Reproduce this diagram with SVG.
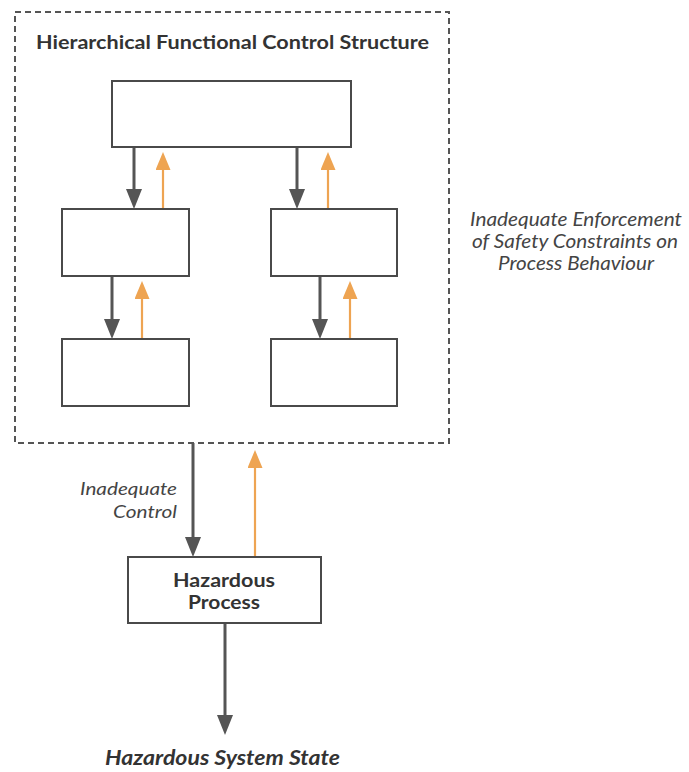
<svg xmlns="http://www.w3.org/2000/svg" width="689" height="772" viewBox="0 0 689 772">
<defs>
<style>
.box{fill:#fff;stroke:#4a4a4a;stroke-width:2}
.ctl{stroke:#555;stroke-width:3;fill:none}
.fb{stroke:#eea452;stroke-width:2.2;fill:none}
.t{font-family:Lato,"Open Sans","Liberation Sans",sans-serif;fill:#333}
.it{font-style:italic;fill:#444}
</style>
<marker id="hd" markerUnits="userSpaceOnUse" markerWidth="20" markerHeight="16" refX="0" refY="8" orient="auto" viewBox="0 0 20 16">
<path d="M0,0 L20,8 L0,16 Z" fill="#555"/>
</marker>
<marker id="ho" markerUnits="userSpaceOnUse" markerWidth="18" markerHeight="15" refX="0" refY="7.5" orient="auto" viewBox="0 0 18 15">
<path d="M0,0 L18,7.5 L0,15 Z" fill="#eea452"/>
</marker>
</defs>
<rect width="689" height="772" fill="#fff"/>
<g id="structure">
<rect x="15" y="12" width="434" height="431" fill="none" stroke="#555" stroke-width="2" stroke-dasharray="6,4"/>
<text class="t" x="36" y="49" font-size="18.5" font-weight="bold" textLength="393" lengthAdjust="spacingAndGlyphs">Hierarchical Functional Control Structure</text>
</g>
<g id="top"><rect class="box" x="112" y="81" width="239" height="66"/></g>
<g id="midLeft"><rect class="box" x="62" y="209" width="127" height="67"/></g>
<g id="midRight"><rect class="box" x="271" y="209" width="126" height="67"/></g>
<g id="botLeft"><rect class="box" x="62" y="339" width="127" height="67"/></g>
<g id="botRight"><rect class="box" x="271" y="339" width="126" height="67"/></g>
<g id="process">
<rect class="box" x="128" y="557" width="193" height="66"/>
<text class="t" x="173" y="587" font-size="19" font-weight="bold" textLength="102" lengthAdjust="spacingAndGlyphs">Hazardous</text>
<text class="t" x="188" y="609" font-size="19" font-weight="bold" textLength="72" lengthAdjust="spacingAndGlyphs">Process</text>
</g>
<g id="state">
<text class="t" x="105" y="765" font-size="20" font-weight="bold" font-style="italic" textLength="235" lengthAdjust="spacingAndGlyphs">Hazardous System State</text>
</g>
<g id="labels">
<text class="t it" x="470" y="226" font-size="18.5" textLength="212" lengthAdjust="spacingAndGlyphs">Inadequate Enforcement</text>
<text class="t it" x="472" y="248" font-size="18.5" textLength="206" lengthAdjust="spacingAndGlyphs">of Safety Constraints on</text>
<text class="t it" x="498" y="270" font-size="18.5" textLength="156" lengthAdjust="spacingAndGlyphs">Process Behaviour</text>
<text class="t it" x="80" y="495" font-size="17.5" textLength="97" lengthAdjust="spacingAndGlyphs">Inadequate</text>
<text class="t it" x="113" y="518" font-size="17.5" textLength="64" lengthAdjust="spacingAndGlyphs">Control</text>
</g>
<g id="connectors">
<line class="ctl" x1="134" y1="148" x2="134" y2="189" marker-end="url(#hd)"/>
<line class="fb" x1="163" y1="208" x2="163" y2="170" marker-end="url(#ho)"/>
<line class="ctl" x1="297" y1="148" x2="297" y2="189" marker-end="url(#hd)"/>
<line class="fb" x1="328" y1="208" x2="328" y2="170" marker-end="url(#ho)"/>
<line class="ctl" x1="112" y1="277" x2="112" y2="319" marker-end="url(#hd)"/>
<line class="fb" x1="142" y1="338" x2="142" y2="299" marker-end="url(#ho)"/>
<line class="ctl" x1="320" y1="277" x2="320" y2="319" marker-end="url(#hd)"/>
<line class="fb" x1="350" y1="338" x2="350" y2="299" marker-end="url(#ho)"/>
<line class="ctl" x1="193" y1="443" x2="193" y2="537" marker-end="url(#hd)"/>
<line class="fb" x1="255" y1="556" x2="255" y2="468" marker-end="url(#ho)"/>
<line class="ctl" x1="225" y1="624" x2="225" y2="715" marker-end="url(#hd)"/>
</g>
</svg>
